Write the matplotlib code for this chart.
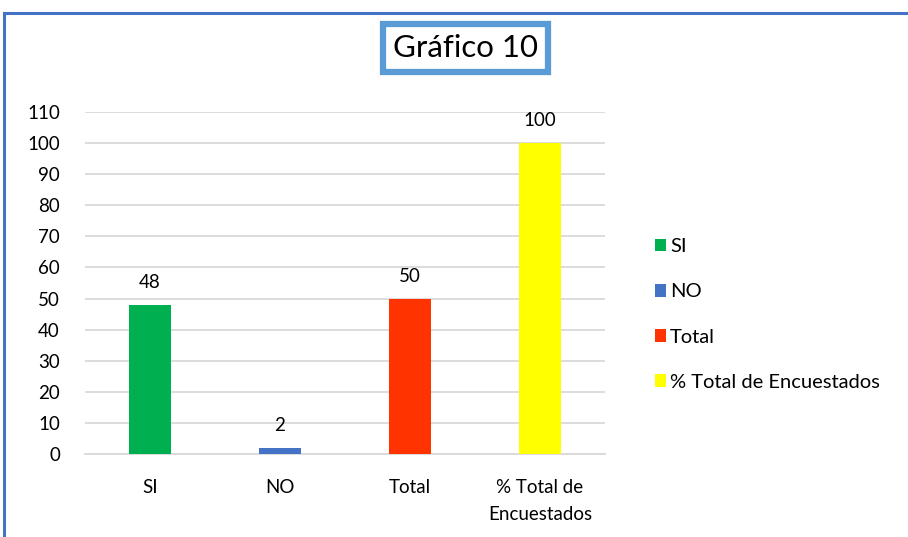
import matplotlib.pyplot as plt
from matplotlib.patches import Patch
from matplotlib.lines import Line2D

plt.rcParams['font.family'] = ['Lato', 'DejaVu Sans']

categorias = ['SI', 'NO', 'Total', '% Total de\nEncuestados']
leyenda = ['SI', 'NO', 'Total', '% Total de Encuestados']
valores = [48, 2, 50, 100]
colores = ['#00B050', '#4472C4', '#FF3300', '#FFFF00']

fig = plt.figure(figsize=(9.08, 5.37), dpi=100)
ax = fig.add_axes([85/908, 1-454/537, 520/908, 342/537])

x = range(len(valores))
ax.bar(x, valores, width=0.32, color=colores, zorder=3)
for xi, v in zip(x, valores):
    ax.text(xi, v + 4.5, str(v), ha='center', va='bottom', fontsize=13.5)

ax.set_xlim(-0.5, 3.5)
ax.set_ylim(0, 110)
ax.set_yticks(range(0, 111, 10))
ax.set_xticks(list(x))
ax.set_xticklabels(categorias, fontsize=13.5, linespacing=1.75)
ax.tick_params(axis='y', labelsize=13.5, length=0, pad=18)
ax.tick_params(axis='x', length=0, pad=18)
ax.grid(axis='y', color='#D9D9D9', lw=1.3, zorder=0)
for s in ['top', 'right', 'left']:
    ax.spines[s].set_visible(False)
ax.spines['bottom'].set_color('#D9D9D9')
ax.spines['bottom'].set_linewidth(1.3)

handles = [Patch(facecolor=c, edgecolor='none') for c in colores]
fig.legend(handles, leyenda, loc='upper left', bbox_to_anchor=(637/908, 1-220/537),
           frameon=False, fontsize=14.5, handlelength=0.55, handleheight=0.6,
           handletextpad=0.2, labelspacing=1.4)

# titulo en recuadro
fig.text(465/908, 1-48/537, 'Gráfico 10', ha='center', va='center', fontsize=22.5,
         bbox=dict(boxstyle='square,pad=0.32', facecolor='white',
                   edgecolor='#5B9BD5', linewidth=4.5))

# borde azul del grafico
fig.add_artist(Line2D([4/908, 4/908], [0, 1-13/537], color='#4472C4', lw=2.2))
fig.add_artist(Line2D([4/908, 1], [1-13/537, 1-13/537], color='#4472C4', lw=2.2))

fig.savefig('out.png', dpi=100)
